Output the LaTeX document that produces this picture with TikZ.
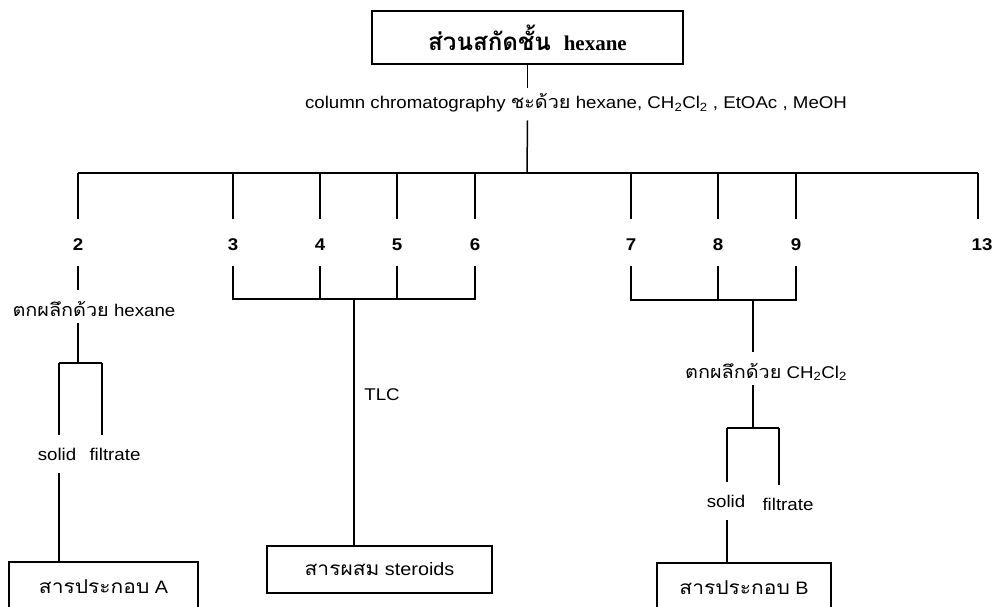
\documentclass[tikz,border=0pt]{standalone}
\usepackage{fontspec}
\setmainfont{Liberation Sans}[FakeStretch=1.1]
\newfontfamily\thaifont[Script=Thai,FakeStretch=1.1,Scale=1.06]{Loma}
\newfontfamily\titlefont{Liberation Serif}
\newfontfamily\titlethai[Script=Thai,Scale=1.15]{Loma}
\newcommand{\thaiw}[1]{{\thaifont #1}}
\begin{document}
\begin{tikzpicture}[x=1pt,y=-1pt,line width=1.5pt,
  every node/.style={inner sep=0pt},
  lbl/.style={font=\fontsize{17}{20}\selectfont},
  num/.style={font=\fontsize{17}{20}\selectfont\bfseries,
    text height=15pt, text depth=0pt, inner ysep=15pt},
  note/.style={lbl, text height=22pt, text depth=3pt, inner ysep=3pt},
  phase/.style={lbl, text height=12pt, text depth=0pt, inner ysep=12.5pt},
  box/.style={draw, line width=1.4pt, rectangle, inner sep=0pt},
  prod/.style={box, font=\fontsize{18}{21}\selectfont},
]
\useasboundingbox (0,0) rectangle (996,607);
\clip (0,0) rectangle (996,607);

% extract
\node[box, minimum width=311pt, minimum height=53pt,
  font=\fontsize{21}{24}\selectfont\bfseries] (top) at (527.5,37.5)
  {{\titlethai ส่วนสกัดชั้น}\ \ {\titlefont hexane}};

% column step
\node[lbl, text height=12.5pt, text depth=4pt, inner ysep=7pt] (col) at (576,104.5)
  {column chromatography \thaiw{ชะด้วย} hexane, CH\textsubscript{2}Cl\textsubscript{2} , EtOAc , MeOH};
\coordinate (bus) at (527,173);
\draw (top.south) -- (top.south |- col.north);
\draw (top.south |- col.south) -- (bus);

% fractions
\foreach \n/\x in {2/78,3/233,4/320,5/397,6/475,7/631,8/718,9/796,13/982}
  \node[num] (n\n) at (\x,242.5) {\n};
\draw (n2.north |- bus) -- (978,173) coordinate (busr);
\foreach \n in {2,3,4,5,6,7,8,9}
  \draw (n\n.north) -- (n\n.north |- bus);
\draw (busr) -- (busr |- n13.north);

% fraction 2
\node[note] (cr1) at (94,306.5) {\thaiw{ตกผลึกด้วย} hexane};
\coordinate (s1l) at (59,363);
\coordinate (s1r) at (102,363);
\node[phase] (sol1) at (57,454) {solid};
\node[phase] (fil1) at (115,454) {filtrate};
\node[prod, minimum width=189pt, minimum height=50pt] (boxA) at (103.5,587)
  {\thaiw{สารประกอบ} A};
\draw (n2.south) -- (n2.south |- cr1.north);
\draw (n2.south |- cr1.south) -- (n2.south |- s1l);
\draw (s1l) -- (s1r);
\draw (s1l) -- (s1l |- sol1.north);
\draw (s1r) -- (s1r |- fil1.north);
\draw (s1l |- sol1.south) -- (s1l |- boxA.north);

% fractions 3-6
\coordinate (g1) at (354,299);
\node[prod, minimum width=225pt, minimum height=47pt] (mix) at (379.5,569.5)
  {\thaiw{สารผสม} steroids};
\node[lbl] (tlc) at (382,395) {TLC};
\draw (n3.south) -- (n3.south |- g1) -- (n6.south |- g1) -- (n6.south);
\draw (n4.south) -- (n4.south |- g1);
\draw (n5.south) -- (n5.south |- g1);
\draw (g1) -- (g1 |- mix.north);

% fractions 7-9
\coordinate (g2) at (753,300);
\node[note] (cr2) at (766,368.5) {\thaiw{ตกผลึกด้วย} CH\textsubscript{2}Cl\textsubscript{2}};
\coordinate (s2l) at (727,428);
\coordinate (s2r) at (779,428);
\node[phase] (sol2) at (726,501) {solid};
\node[phase] (fil2) at (788,504) {filtrate};
\node[prod, minimum width=174pt, minimum height=50pt] (boxB) at (744,588)
  {\thaiw{สารประกอบ} B};
\draw (n7.south) -- (n7.south |- g2) -- (n9.south |- g2) -- (n9.south);
\draw (n8.south) -- (n8.south |- g2);
\draw (g2) -- (g2 |- cr2.north);
\draw (g2 |- cr2.south) -- (g2 |- s2l);
\draw (s2l) -- (s2r);
\draw (s2l) -- (s2l |- sol2.north);
\draw (s2r) -- (s2r |- fil2.north);
\draw (s2l |- sol2.south) -- (s2l |- boxB.north);
\end{tikzpicture}
\end{document}
